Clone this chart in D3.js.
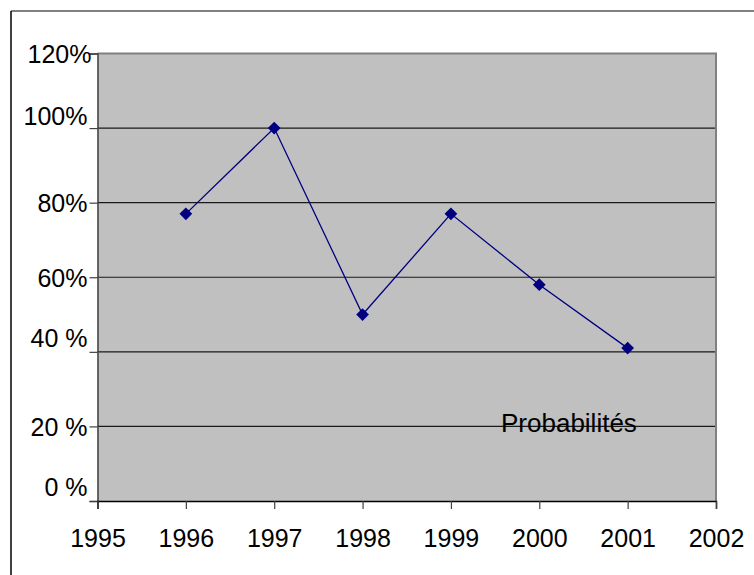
<!DOCTYPE html>
<html>
<head>
<meta charset="utf-8">
<script src="https://cdn.jsdelivr.net/npm/d3@7"></script>
<style>
  body { margin: 0; background: #fff; }
  svg { display: block; font-family: "Liberation Sans", Arial, sans-serif; }
</style>
</head>
<body>
<div id="chart"></div>
<script>
// Data
const years = [1996, 1997, 1998, 1999, 2000, 2001];
const probabilites = [0.77, 1.00, 0.50, 0.77, 0.58, 0.41];
const xTicks = [1995, 1996, 1997, 1998, 1999, 2000, 2001, 2002];
const yTicks = [0, 0.2, 0.4, 0.6, 0.8, 1.0, 1.2];
const yTickLabels = ["0 %", "20 %", "40 %", "60%", "80%", "100%", "120%"];
const seriesName = "Probabilités";

const width = 754, height = 575;
const plot = { left: 97.5, right: 716, top: 53.5, bottom: 501 };
// small nudges of some y labels, as in the original
const labelNudgeY = { 0: -14, 0.4: -14, 1.0: -12 };
const labelNudgeX = { 1.2: 4 };

const svg = d3.select("#chart")
    .append("svg")
    .attr("width", width)
    .attr("height", height);

// Outer chart frame (only top and left visible)
svg.append("line")
    .attr("x1", 11).attr("x2", width).attr("y1", 11).attr("y2", 11)
    .attr("stroke", "#808080").attr("stroke-width", 2);
svg.append("line")
    .attr("x1", 11).attr("x2", 11).attr("y1", 11).attr("y2", height)
    .attr("stroke", "#000").attr("stroke-width", 1.5);

const x = d3.scaleLinear()
    .domain([1995, 2002])
    .range([plot.left, plot.right]);

const y = d3.scaleLinear()
    .domain([0, 1.2])
    .range([plot.bottom, plot.top]);

// Plot area
svg.append("rect")
    .attr("x", plot.left).attr("y", plot.top)
    .attr("width", plot.right - plot.left)
    .attr("height", plot.bottom - plot.top)
    .attr("fill", "#c0c0c0");

// Gridlines
svg.append("g")
    .selectAll("line")
    .data(yTicks.filter(d => d > 0 && d < 1.2))
    .enter()
    .append("line")
    .attr("x1", plot.left).attr("x2", plot.right)
    .attr("y1", d => y(d)).attr("y2", d => y(d))
    .attr("stroke", "#1a1a1a")
    .attr("stroke-width", 1.2);

// Plot border top / right
svg.append("path")
    .attr("d", `M${plot.left},${plot.top}H${plot.right}V${plot.bottom}`)
    .attr("fill", "none")
    .attr("stroke", "#808080")
    .attr("stroke-width", 2);

// Y axis
const yAxis = svg.append("g")
    .attr("transform", `translate(${plot.left},0)`)
    .call(d3.axisLeft(y)
        .tickValues(yTicks)
        .tickSize(8)
        .tickPadding(2)
        .tickFormat((d, i) => yTickLabels[i]));
yAxis.select(".domain").attr("stroke", "#404040").attr("stroke-width", 1.5);
yAxis.selectAll(".tick line").attr("stroke", "#404040").attr("stroke-width", 1.2);
yAxis.selectAll(".tick text")
    .attr("font-size", 25)
    .attr("font-family", "Liberation Sans, Arial, sans-serif")
    .attr("fill", "#000")
    .attr("dy", "0.35em")
    .attr("x", d => -10 + (labelNudgeX[d] || 0))
    .attr("y", d => labelNudgeY[d] || 0);

// X axis
const xAxis = svg.append("g")
    .attr("transform", `translate(0,${plot.bottom})`)
    .call(d3.axisBottom(x)
        .tickValues(xTicks)
        .tickSize(8)
        .tickPadding(20)
        .tickFormat(d3.format("d")));
xAxis.select(".domain").attr("stroke", "#000").attr("stroke-width", 1.5);
xAxis.selectAll(".tick line").attr("stroke", "#404040").attr("stroke-width", 1.2);
xAxis.selectAll(".tick text")
    .attr("font-size", 25)
    .attr("font-family", "Liberation Sans, Arial, sans-serif")
    .attr("fill", "#000");

// Series line
const points = years.map((yr, i) => ({ year: yr, value: probabilites[i] }));
svg.append("path")
    .datum(points)
    .attr("fill", "none")
    .attr("stroke", "#000080")
    .attr("stroke-width", 1.3)
    .attr("d", d3.line()
        .x(d => x(d.year))
        .y(d => y(d.value)));

// Diamond markers
svg.selectAll(".marker")
    .data(points)
    .enter()
    .append("path")
    .attr("class", "marker")
    .attr("d", d3.symbol(d3.symbolSquare, 81))
    .attr("transform", d => `translate(${x(d.year)},${y(d.value)}) rotate(45)`)
    .attr("fill", "#000080");

// Series label
svg.append("text")
    .attr("x", 501)
    .attr("y", 432)
    .attr("font-size", 26)
    .attr("fill", "#000")
    .text(seriesName);
</script>
</body>
</html>
